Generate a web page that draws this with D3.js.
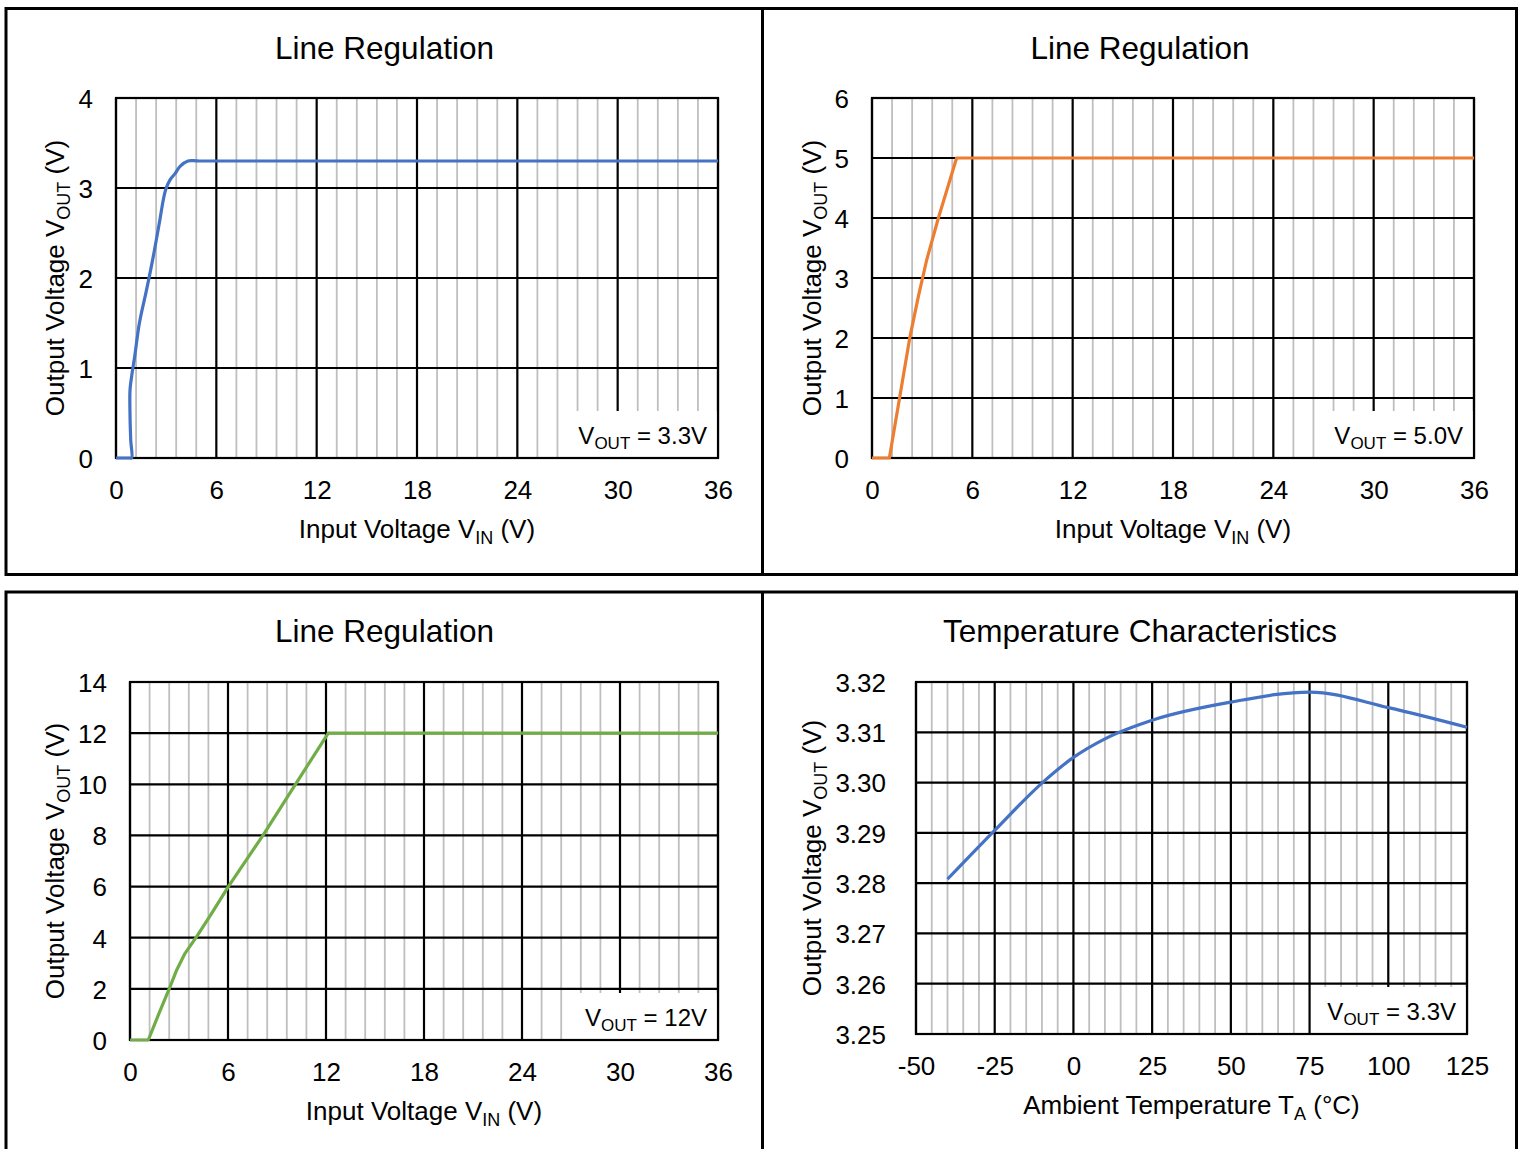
<!DOCTYPE html>
<html><head><meta charset="utf-8">
<script src="https://cdn.jsdelivr.net/npm/d3@7"></script>
<style>
body{margin:0;background:#fff}
svg text{font-family:Arial,"Liberation Sans",sans-serif;fill:#000}
</style>
</head><body>
<svg id="c" width="1521" height="1149"></svg>
<script>
// ---- data ----
const vinTicks = [0, 6, 12, 18, 24, 30, 36];
const tempTicks = [-50, -25, 0, 25, 50, 75, 100, 125];

const lr33Vin  = [0, 0.85, 0.94, 0.88, 0.83, 0.84, 0.96, 1.12, 1.4, 1.83, 2.23, 2.59, 2.83, 2.97, 3.23, 3.53, 3.83, 4.3, 5.0, 36];
const lr33Vout = [0, 0,    0,    0.2,  0.57, 0.76, 0.94, 1.13, 1.5, 1.87, 2.24, 2.61, 2.87, 2.98, 3.09, 3.16, 3.24, 3.3, 3.3, 3.3];

const lr50Vin  = [0, 1.04, 2.27, 2.77, 3.27, 3.97, 5.06, 36];
const lr50Vout = [0, 0,    2.02, 2.69, 3.3,  4.0,  5.0,  5.0];

const lr12Vin  = [0, 1.12, 1.75, 2.45, 2.86, 3.37, 4.08, 5.0,  6.02, 8.16, 10.1, 12.14, 36];
const lr12Vout = [0, 0,    1.0,  2.08, 2.74, 3.39, 4.04, 4.95, 6.0,  8.02, 9.97, 12.0,  12.0];

const tempC    = [-40,    -25,    -10,    0,      10,     25,     50,     75,     100,    125];
const tempVout = [3.2808, 3.2905, 3.2999, 3.3050, 3.3087, 3.3124, 3.3160, 3.3180, 3.3149, 3.3110];

const lineYTicks1 = [0, 1, 2, 3, 4];
const lineYTicks2 = [0, 1, 2, 3, 4, 5, 6];
const lineYTicks3 = [0, 2, 4, 6, 8, 10, 12, 14];
const tempYTicks  = [3.25, 3.26, 3.27, 3.28, 3.29, 3.30, 3.31, 3.32];

const vinMinor  = d3.range(0, 31).filter(i => i % 5 !== 0).map(i => i * 1.2);
const tempMinor = d3.range(0, 36).filter(i => i % 5 !== 0).map(i => -50 + i * 5);

// ---- layout ----
const svg = d3.select("#c");
const F = "Arial, 'Liberation Sans', sans-serif";

// panel frames
const frame = svg.append("g").attr("stroke", "#000").attr("stroke-width", 3).attr("fill", "none");
frame.append("path").attr("d", "M6,1149 V592 H1516.5 V1149");
frame.append("rect").attr("x", 6).attr("y", 8.5).attr("width", 1510.5).attr("height", 566);
frame.append("line").attr("x1", 762.5).attr("x2", 762.5).attr("y1", 8.5).attr("y2", 574.5);
frame.append("line").attr("x1", 762.5).attr("x2", 762.5).attr("y1", 592).attr("y2", 1149);

const panels = [
  {title: "Line Regulation", cx: 384.5, ty: 59, l: 116, r: 718, t: 98, b: 458,
   xd: [0, 36], xt: vinTicks, minor: vinMinor, yd: [0, 4], yt: lineYTicks1, fmt: d3.format("d"), ypad: 23,
   xlab: ["Input Voltage V", "IN", " (V)"], ylx: 55, leg: " = 3.3V", color: "#4472C4",
   xs: lr33Vin, ys: lr33Vout, curve: d3.curveCatmullRom.alpha(0.5)},
  {title: "Line Regulation", cx: 1140, ty: 59, l: 872, r: 1474, t: 98, b: 458,
   xd: [0, 36], xt: vinTicks, minor: vinMinor, yd: [0, 6], yt: lineYTicks2, fmt: d3.format("d"), ypad: 23,
   xlab: ["Input Voltage V", "IN", " (V)"], ylx: 812, leg: " = 5.0V", color: "#ED7D31",
   xs: lr50Vin, ys: lr50Vout, curve: d3.curveLinear},
  {title: "Line Regulation", cx: 384.5, ty: 642, l: 130, r: 718, t: 682, b: 1040,
   xd: [0, 36], xt: vinTicks, minor: vinMinor, yd: [0, 14], yt: lineYTicks3, fmt: d3.format("d"), ypad: 23,
   xlab: ["Input Voltage V", "IN", " (V)"], ylx: 55, leg: " = 12V", color: "#70AD47",
   xs: lr12Vin, ys: lr12Vout, curve: d3.curveLinear},
  {title: "Temperature Characteristics", cx: 1140, ty: 642, l: 916, r: 1467, t: 682, b: 1034,
   xd: [-50, 125], xt: tempTicks, minor: tempMinor, yd: [3.25, 3.32], yt: tempYTicks, fmt: d3.format(".2f"), ypad: 30,
   xlab: ["Ambient Temperature T", "A", " (°C)"], ylx: 812, leg: " = 3.3V", color: "#4472C4",
   xs: tempC, ys: tempVout, curve: d3.curveMonotoneX}
];

panels.forEach(p => {
  const g = svg.append("g");
  const x = d3.scaleLinear().domain(p.xd).range([p.l, p.r]);
  const y = d3.scaleLinear().domain(p.yd).range([p.b, p.t]);

  // title
  g.append("text").attr("x", p.cx).attr("y", p.ty).attr("text-anchor", "middle")
    .attr("font-size", 31.5).text(p.title);

  // minor vertical grid
  g.append("g").selectAll("line").data(p.minor).join("line")
    .attr("x1", d => x(d)).attr("x2", d => x(d)).attr("y1", p.t).attr("y2", p.b)
    .attr("stroke", "#bfbfbf").attr("stroke-width", 1.8);
  // major vertical grid
  g.append("g").selectAll("line").data(p.xt).join("line")
    .attr("x1", d => x(d)).attr("x2", d => x(d)).attr("y1", p.t).attr("y2", p.b)
    .attr("stroke", "#000").attr("stroke-width", 2.2);
  // horizontal grid
  g.append("g").selectAll("line").data(p.yt).join("line")
    .attr("x1", p.l).attr("x2", p.r).attr("y1", d => y(d)).attr("y2", d => y(d))
    .attr("stroke", "#000").attr("stroke-width", 2.2);

  // legend box
  const lg = g.append("g");
  const lrect = lg.append("rect").attr("fill", "#fff");
  const lt = lg.append("text").attr("x", p.r - 11).attr("y", p.b - 14)
    .attr("text-anchor", "end").attr("font-size", 24);
  lt.append("tspan").text("V");
  lt.append("tspan").attr("font-size", 17).attr("dy", 5).text("OUT");
  lt.append("tspan").attr("dy", -5).text(p.leg);
  const bb = lt.node().getBBox();
  lrect.attr("x", bb.x - 11).attr("y", p.b - 47).attr("width", p.r - (bb.x - 11)).attr("height", 47);

  // plot border
  g.append("rect").attr("x", p.l).attr("y", p.t).attr("width", p.r - p.l).attr("height", p.b - p.t)
    .attr("fill", "none").attr("stroke", "#000").attr("stroke-width", 2.2);

  // axes (labels)
  const xa = g.append("g").attr("transform", `translate(0,${p.b})`)
    .call(d3.axisBottom(x).tickValues(p.xt).tickSize(0).tickFormat(d => String(d)));
  xa.select(".domain").remove();
  xa.selectAll("text").attr("y", 40.5).attr("dy", null).attr("font-size", 26)
    .attr("font-family", F).attr("fill", "#000");

  const ya = g.append("g").attr("transform", `translate(${p.l},0)`)
    .call(d3.axisLeft(y).tickValues(p.yt).tickSize(0).tickPadding(p.ypad).tickFormat(p.fmt));
  ya.select(".domain").remove();
  ya.selectAll("text").attr("dy", "0.36em").attr("font-size", 26)
    .attr("font-family", F).attr("fill", "#000");

  // x axis title
  const xt = g.append("text").attr("x", (p.l + p.r) / 2).attr("y", p.b + 80)
    .attr("text-anchor", "middle").attr("font-size", 26);
  xt.append("tspan").text(p.xlab[0]);
  xt.append("tspan").attr("font-size", 18).attr("dy", 6).text(p.xlab[1]);
  xt.append("tspan").attr("dy", -6).text(p.xlab[2]);

  // y axis title
  const yt = g.append("text")
    .attr("transform", `translate(${p.ylx + 9},${(p.t + p.b) / 2}) rotate(-90)`)
    .attr("text-anchor", "middle").attr("font-size", 26);
  yt.append("tspan").text("Output Voltage V");
  yt.append("tspan").attr("font-size", 18).attr("dy", 6).text("OUT");
  yt.append("tspan").attr("dy", -6).text(" (V)");

  // curve
  const pts = p.xs.map((v, i) => [v, p.ys[i]]);
  g.append("path").datum(pts)
    .attr("d", d3.line().x(d => x(d[0])).y(d => y(d[1])).curve(p.curve))
    .attr("fill", "none").attr("stroke", p.color).attr("stroke-width", 3.2)
    .attr("stroke-linejoin", "round");
});
</script>
</body></html>
